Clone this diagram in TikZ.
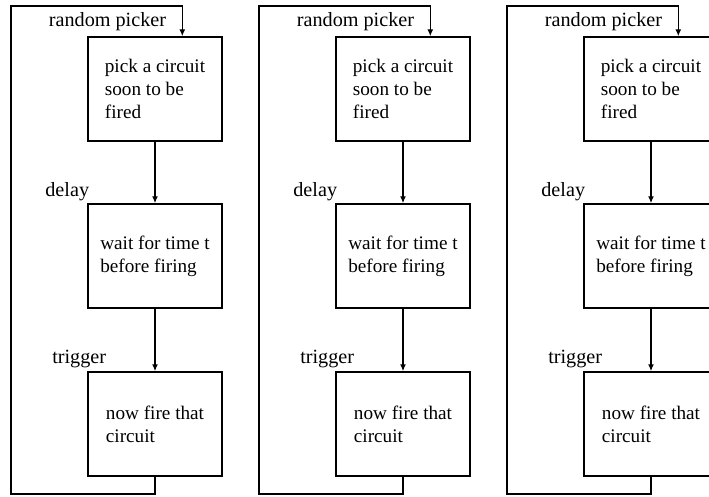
\documentclass[tikz,border=0pt]{standalone}
\usepackage{fontspec}
\setmainfont{Liberation Serif}
\usetikzlibrary{arrows.meta,positioning}

\tikzset{
	stepbox/.style={draw, line width=1.4pt, minimum width=134pt, minimum height=104pt, inner sep=0pt, align=left, font=\fontsize{19.2}{23}\selectfont},
	lbl/.style={inner sep=0pt, font=\fontsize{20.2}{24}\selectfont},
	flow/.style={line width=1.4pt, -{Latex[length=7pt,width=6pt]}}
}

\begin{document}
\begin{tikzpicture}[x=1pt,y=1pt]
	\useasboundingbox (0,0) rectangle (709,496);
	% column 1
	\node[stepbox] (pick1) at (155,407) {pick a circuit\\soon to be\\fired};
	\node[stepbox] (wait1) at (155,240) {wait for time t\\before firing};
	\node[stepbox] (fire1) at (155,72)  {now fire that\\circuit};
	\coordinate (bot1) at (11,2);
	\coordinate (top1) at (11,490);
	\coordinate (in1)  at ([xshift=95pt]pick1.north west);
	\draw[flow] (pick1) -- (wait1);
	\draw[flow] (wait1) -- (fire1);
	\draw[flow] (fire1.south) |- (bot1) |- (in1 |- top1) -- (in1);
	\node[lbl, anchor=base east] (rp1) at ([xshift=-16pt]in1 |- 0,469) {random picker};
	\node[lbl, anchor=base east] (dl1) at ([shift={(2pt,7pt)}]wait1.north west) {delay};
	\node[lbl, anchor=base east] (tg1) at ([shift={(19pt,8pt)}]fire1.north west) {trigger};
	% column 2
	\node[stepbox] (pick2) at (403,407) {pick a circuit\\soon to be\\fired};
	\node[stepbox] (wait2) at (403,240) {wait for time t\\before firing};
	\node[stepbox] (fire2) at (403,72)  {now fire that\\circuit};
	\coordinate (bot2) at (259,2);
	\coordinate (top2) at (259,490);
	\coordinate (in2)  at ([xshift=95pt]pick2.north west);
	\draw[flow] (pick2) -- (wait2);
	\draw[flow] (wait2) -- (fire2);
	\draw[flow] (fire2.south) |- (bot2) |- (in2 |- top2) -- (in2);
	\node[lbl, anchor=base east] (rp2) at ([xshift=-16pt]in2 |- 0,469) {random picker};
	\node[lbl, anchor=base east] (dl2) at ([shift={(2pt,7pt)}]wait2.north west) {delay};
	\node[lbl, anchor=base east] (tg2) at ([shift={(19pt,8pt)}]fire2.north west) {trigger};
	% column 3
	\node[stepbox] (pick3) at (651,407) {pick a circuit\\soon to be\\fired};
	\node[stepbox] (wait3) at (651,240) {wait for time t\\before firing};
	\node[stepbox] (fire3) at (651,72)  {now fire that\\circuit};
	\coordinate (bot3) at (507,2);
	\coordinate (top3) at (507,490);
	\coordinate (in3)  at ([xshift=95pt]pick3.north west);
	\draw[flow] (pick3) -- (wait3);
	\draw[flow] (wait3) -- (fire3);
	\draw[flow] (fire3.south) |- (bot3) |- (in3 |- top3) -- (in3);
	\node[lbl, anchor=base east] (rp3) at ([xshift=-16pt]in3 |- 0,469) {random picker};
	\node[lbl, anchor=base east] (dl3) at ([shift={(2pt,7pt)}]wait3.north west) {delay};
	\node[lbl, anchor=base east] (tg3) at ([shift={(19pt,8pt)}]fire3.north west) {trigger};
\end{tikzpicture}
\end{document}
